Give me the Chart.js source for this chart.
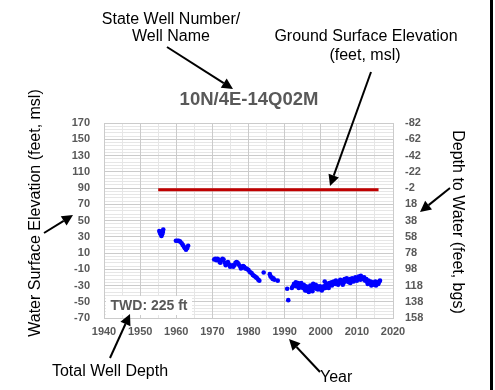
<!DOCTYPE html>
<html>
<head>
<meta charset="utf-8">
<title>10N/4E-14Q02M</title>
<script src="https://cdn.jsdelivr.net/npm/chart.js@4.4.1/dist/chart.umd.min.js"></script>
<style>
  html,body{margin:0;padding:0;background:#fff;}
  #wrap{position:relative;width:495px;height:390px;overflow:hidden;}
</style>
</head>
<body>
<div id="wrap"><canvas id="hydro" width="495" height="390"></canvas></div>
<script>
(function(){
  "use strict";
  const WELL="10N/4E-14Q02M";
  const GSE=88;                 // ground surface elevation, feet msl
  const GSE_YEARS=[1955,2016];
  const TWD=225;                // total well depth, ft
  const YEAR_TICKS=[1940,1950,1960,1970,1980,1990,2000,2010,2020];
  const ELEV_TICKS=[170,150,130,110,90,70,50,30,10,-10,-30,-50,-70];
  const DEPTH_TICKS=[-82,-62,-42,-22,-2,18,38,58,78,98,118,138,158];

  // water surface elevation readings (decimal year / feet msl)
  const WL_YEAR=[
    1955.3,1955.5,1955.7,1955.9,1956.1,1956.3,1956.4,
    1959.9,1960.3,1960.7,1961.1,1961.5,1961.8,1962.1,1962.4,1962.7,1963.0,1963.3,
    1970.5,1970.8,1971.1,1971.4,1971.7,1972.0,1972.2,1972.5,1972.8,1973.1,1973.4,1973.7,
    1974.0,1974.3,1974.6,1974.9,1975.2,1975.5,1975.8,1976.1,1976.4,1976.7,1977.0,1977.3,
    1977.6,1977.9,1978.2,1978.5,1978.8,1979.1,1979.4,1979.7,1980.0,1980.3,1980.6,1980.9,
    1981.2,1981.5,1981.8,1982.1,1982.4,1982.7,1983.0,
    1984.2,1985.9,1986.1,1986.4,1986.7,1986.9,1987.2,1988.1,
    1990.7,1991.0,
    1992.0,1992.3,1992.6,1992.9,1993.1,1993.4,1993.7,1994.0,1994.3,1994.5,1994.8,1995.1,
    1995.3,1995.6,1995.9,1996.1,1996.4,1996.6,1996.9,1997.1,1997.4,1997.6,1997.9,1998.1,
    1998.4,1998.6,1998.9,1999.1,1999.4,1999.7,2000.0,2000.3,2000.6,2000.9,2001.1,2001.3,
    2001.6,2001.9,2002.1,2002.4,2002.7,2003.0,2003.3,2003.6,2003.9,2004.2,2004.5,2004.8,
    2005.1,2005.4,2005.7,2006.0,2006.3,2006.6,2006.9,2007.2,2007.5,2007.8,2008.1,2008.4,
    2008.7,2009.0,2009.3,2009.6,2009.9,2010.2,2010.5,2010.8,2011.1,2011.4,2011.7,2012.0,
    2012.3,2012.6,2012.9,2013.2,2013.5,2013.8,2014.1,2014.4,2014.7,2015.0,2015.3,2015.6,
    2015.9,2016.2,2016.4,
    // second reading of the month, 1993-2016
    1993.2,1993.9,1994.6,1995.2,1995.7,1996.2,1996.7,1997.2,1997.7,1998.2,1998.7,1999.2,
    1999.8,2000.4,2001.4,2002.2,2003.1,2004.0,2005.2,2006.1,2007.0,2008.2,2009.1,2010.0,
    2011.0,2012.1,2013.0,2014.0,2015.1,2016.0
  ];
  const WL_ELEV=[
    37,35,33,31,33,36,39,
    25,25,25,24,22,20,18,16,14,16,19,
    2,3,1,3,2,-1,-2,1,3,2,-2,-5,
    -3,-1,-4,-7,-6,-5,-7,-5,-2,-1,-2,-4,
    -6,-9,-8,-6,-7,-9,-9,-10,-11,-13,-14,-15,
    -17,-18,-19,-20,-21,-23,-24,
    -14,-16,-19,-20,-22,-21,-23,-24,
    -34,-48,
    -33,-31,-28,-30,-26,-29,-27,-30,-28,-32,-30,-33,
    -29,-34,-31,-36,-33,-37,-34,-30,-35,-32,-28,-33,
    -30,-29,-32,-31,-34,-33,-35,-36,-34,-31,-25,-33,
    -30,-28,-31,-27,-29,-26,-28,-25,-27,-24,-26,-29,
    -27,-23,-26,-24,-27,-22,-25,-21,-24,-26,-22,-25,
    -21,-24,-22,-20,-23,-21,-19,-22,-18,-20,-22,-20,
    -24,-22,-26,-24,-27,-25,-28,-26,-29,-27,-30,-26,
    -28,-25,-24,
    -31,-33,-27,-31,-36,-32,-38,-33,-37,-31,-34,-35,
    -31,-32,-29,-33,-30,-28,-25,-29,-23,-27,-25,-24,
    -23,-23,-28,-30,-25,-27
  ];

  const GRID_MAJOR="#cbcbcb", GRID_MINOR="#e6e6e6", TICK_COLOR="#595959";
  const SANS="'Liberation Sans', Arial, sans-serif";
  const tickFont={family:SANS,size:11,weight:"bold"};

  function fixTicks(list){return s=>{s.ticks=list.map(v=>({value:v}));};}

  function arrow(ctx,x1,y1,x2,y2){
    const a=Math.atan2(y2-y1,x2-x1),hl=11,hw=5.5;
    const bx=x2-hl*Math.cos(a),by=y2-hl*Math.sin(a);
    ctx.beginPath();ctx.moveTo(x1,y1);ctx.lineTo(bx,by);ctx.stroke();
    ctx.beginPath();
    ctx.moveTo(x2,y2);
    ctx.lineTo(bx+hw*Math.sin(a),by-hw*Math.cos(a));
    ctx.lineTo(bx-hw*Math.sin(a),by+hw*Math.cos(a));
    ctx.closePath();ctx.fill();
  }

  // callout labels, well title, TWD box and frame
  const callouts={
    id:"callouts",
    afterDraw(chart){
      const ctx=chart.ctx;
      ctx.save();
      ctx.textAlign="center";ctx.textBaseline="middle";

      ctx.fillStyle=TICK_COLOR;
      ctx.font="bold 18.5px "+SANS;
      ctx.fillText(WELL,249,100);

      // TWD box sits on top of the grid
      ctx.fillStyle="#fff";ctx.fillRect(106,296,86,19);
      ctx.fillStyle=TICK_COLOR;
      ctx.font="bold 14px "+SANS;
      ctx.fillText("TWD: "+TWD+" ft",149,306);

      ctx.fillStyle="#000";ctx.strokeStyle="#000";ctx.lineWidth=2;
      ctx.font="16px "+SANS;
      ctx.fillText("State Well Number/",171,20);
      ctx.fillText("Well Name",171,37);
      ctx.fillText("Ground Surface Elevation",366,37);
      ctx.fillText("(feet, msl)",365,56);
      ctx.fillText("Total Well Depth",110,372);
      ctx.textAlign="left";ctx.fillText("Year",320,378);

      ctx.save();ctx.translate(36,213);ctx.rotate(-Math.PI/2);
      ctx.textAlign="center";ctx.fillText("Water Surface Elevation (feet, msl)",0,0);ctx.restore();
      ctx.save();ctx.translate(457,222);ctx.rotate(Math.PI/2);
      ctx.textAlign="center";ctx.fillText("Depth to Water (feet, bgs)",0,0);ctx.restore();

      arrow(ctx,167,47,233,89);
      arrow(ctx,371,72,330,186);
      arrow(ctx,44,233,73,215);
      arrow(ctx,450,188,420,212);
      arrow(ctx,110,358,130,314);
      arrow(ctx,320,372,289,339);

      ctx.fillRect(490,0,3,390);
      ctx.restore();
    }
  };

  const points=WL_YEAR.map((x,i)=>({x:x,y:WL_ELEV[i]}));
  const gseLine=GSE_YEARS.map(x=>({x:x,y:GSE}));

  new Chart(document.getElementById("hydro"),{
    type:"scatter",
    data:{datasets:[
      {label:"Ground surface",data:gseLine,showLine:true,borderColor:"#c00000",borderWidth:3,pointRadius:0,order:2},
      {label:"Water surface elevation",data:points,backgroundColor:"#0000ff",borderColor:"#0000ff",pointRadius:2.3,borderWidth:0,order:1}
    ]},
    options:{
      responsive:false,animation:false,devicePixelRatio:1,
      layout:{padding:{top:123,left:0,right:0,bottom:0}},
      plugins:{legend:{display:false},tooltip:{enabled:false},title:{display:false}},
      scales:{
        xMinor:{type:"linear",position:"bottom",min:1940,max:2020,
          ticks:{display:false,stepSize:5},grid:{color:GRID_MINOR,drawTicks:false},border:{display:false},
          afterFit:s=>{s.height=0;}},
        yMinor:{type:"linear",position:"left",min:-70,max:170,
          ticks:{display:false},grid:{color:GRID_MINOR,drawTicks:false},border:{display:false},
          afterBuildTicks:s=>{const t=[];for(let v=-70;v<=170;v+=4)t.push({value:v});s.ticks=t;},
          afterFit:s=>{s.width=0;}},
        x:{type:"linear",position:"bottom",min:1940,max:2020,
          afterBuildTicks:fixTicks(YEAR_TICKS),
          ticks:{color:TICK_COLOR,font:tickFont,padding:7,maxRotation:0,autoSkip:false,callback:v=>String(v)},
          grid:{color:GRID_MAJOR,drawTicks:false},border:{color:GRID_MAJOR},
          afterFit:s=>{s.height=72;}},
        y:{type:"linear",position:"left",min:-70,max:170,
          afterBuildTicks:fixTicks(ELEV_TICKS),
          ticks:{color:TICK_COLOR,font:tickFont,padding:14,autoSkip:false,callback:v=>String(v)},
          grid:{color:GRID_MAJOR,drawTicks:false},border:{color:GRID_MAJOR},
          afterFit:s=>{s.width=104;}},
        yDepth:{type:"linear",position:"right",reverse:true,min:GSE-170,max:GSE+70,
          afterBuildTicks:fixTicks(DEPTH_TICKS),
          ticks:{color:TICK_COLOR,font:tickFont,padding:12,autoSkip:false,callback:v=>String(v)},
          grid:{drawOnChartArea:false,drawTicks:false},border:{color:GRID_MAJOR},
          afterFit:s=>{s.width=102;}}
      }
    },
    plugins:[callouts]
  });
})();
</script>
</body>
</html>
